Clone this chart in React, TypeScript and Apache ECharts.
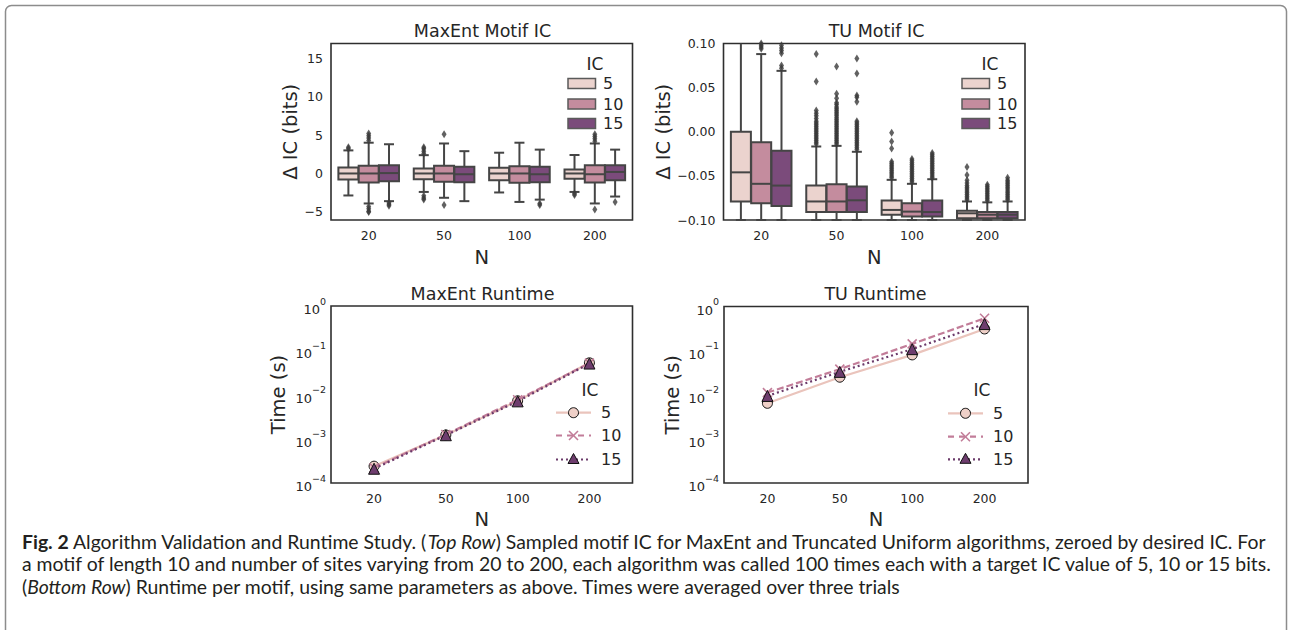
import React, { useEffect, useRef } from "react";
import * as echarts from "echarts";

// ---------------- data ----------------
const N_LABELS = ["20", "50", "100", "200"];
const IC_LEVELS = ["5", "10", "15"];

// box stats per N: [lower whisker, q1, median, q3, upper whisker]
const maxentBox5 = [[-2.86, -0.78, 0, 0.78, 3.0], [-2.4, -0.74, 0, 0.65, 2.38], [-2.47, -0.87, 0, 0.74, 2.7], [-2.4, -0.7, 0, 0.52, 2.4]];
const maxentBox10 = [[-3.9, -1.17, 0, 1.0, 4.0], [-3.16, -1.08, 0, 1.0, 3.9], [-3.7, -1.2, 0, 0.95, 4.0], [-3.9, -1.17, -0.1, 1.08, 3.9]];
const maxentBox15 = [[-3.6, -1.0, 0.05, 1.08, 3.8], [-3.6, -1.13, -0.1, 0.87, 2.9], [-3.4, -1.13, -0.1, 0.87, 3.1], [-3.0, -0.87, 0.2, 1.08, 3.1]];
const maxentOut5 = [[3.2, 3.4], [2.6, 2.9, 3.2, 3.4, -2.9, -3.2, -3.4], [], [-2.6, -2.8]];
const maxentOut10 = [[4.3, 4.6, 4.9, 5.2, -4.3, -4.6, -4.9, -5.0], [5.1, -4.1], [], [4.2, 4.5, 4.8, 5.1, -4.7]];
const maxentOut15 = [[-3.8, -4.0, -4.2], [], [-3.9, -4.1], [-3.7]];

const tuBox5 = [[-0.1, -0.079, -0.046, 0.0, 0.13], [-0.1, -0.091, -0.079, -0.061, -0.0167], [-0.1, -0.094, -0.0886, -0.078, -0.0545], [-0.1, -0.098, -0.0924, -0.0894, -0.079]];
const tuBox10 = [[-0.1, -0.081, -0.059, -0.012, 0.088], [-0.1, -0.091, -0.079, -0.0595, -0.016], [-0.1, -0.096, -0.0905, -0.081, -0.059], [-0.1, -0.098, -0.094, -0.091, -0.08]];
const tuBox15 = [[-0.1, -0.084, -0.061, -0.0216, 0.069], [-0.1, -0.091, -0.0777, -0.062, -0.0227], [-0.1, -0.096, -0.091, -0.078, -0.0538], [-0.1, -0.098, -0.094, -0.091, -0.079]];
const tuOut5 = [
  [],
  [-0.014, -0.012, -0.01, -0.008, -0.006, -0.004, -0.002, 0.0, 0.002, 0.004, 0.006, 0.008, 0.01, 0.012, 0.015, 0.018, 0.021, 0.024, 0.057, 0.088],
  [-0.052, -0.05, -0.048, -0.046, -0.044, -0.042, -0.04, -0.038, -0.036, -0.034, -0.019, -0.011, -0.001],
  [-0.077, -0.075, -0.073, -0.071, -0.069, -0.067, -0.065, -0.063, -0.061, -0.058, -0.055, -0.049, -0.04],
];
const tuOut10 = [
  [0.094, 0.096, 0.098, 0.1],
  [-0.014, -0.012, -0.01, -0.008, -0.006, -0.004, -0.002, 0.0, 0.002, 0.004, 0.006, 0.008, 0.01, 0.012, 0.014, 0.016, 0.018, 0.02, 0.022, 0.024, 0.026, 0.028, 0.031, 0.033, 0.038, 0.043, 0.074],
  [-0.057, -0.055, -0.053, -0.051, -0.049, -0.047, -0.045, -0.043, -0.041, -0.039, -0.037, -0.035, -0.033, -0.031],
  [-0.078, -0.076, -0.074, -0.072, -0.07, -0.068, -0.066, -0.064, -0.062, -0.06],
];
const tuOut15 = [
  [0.072, 0.075, 0.089, 0.092, 0.095, 0.098],
  [-0.02, -0.018, -0.016, -0.014, -0.012, -0.01, -0.008, -0.006, -0.004, -0.002, 0.0, 0.002, 0.004, 0.006, 0.008, 0.01, 0.012, 0.034, 0.039, 0.041, 0.066, 0.083],
  [-0.052, -0.05, -0.048, -0.046, -0.044, -0.042, -0.04, -0.038, -0.036, -0.034, -0.032, -0.03, -0.028, -0.026, -0.024],
  [-0.077, -0.075, -0.073, -0.071, -0.069, -0.067, -0.065, -0.063, -0.061, -0.059, -0.057, -0.055, -0.052],
];

// runtime (seconds) per N
const maxentTime5 = [2.4e-4, 1.22e-3, 7.2e-3, 5.2e-2];
const maxentTime10 = [2.2e-4, 1.25e-3, 7.6e-3, 5.1e-2];
const maxentTime15 = [2.1e-4, 1.2e-3, 7.0e-3, 5.0e-2];
const tuTime5 = [6.4e-3, 0.025, 0.08, 0.31];
const tuTime10 = [0.0112, 0.038, 0.142, 0.54];
const tuTime15 = [0.0094, 0.033, 0.108, 0.4];

const LOG_TICKS = [1e-4, 1e-3, 1e-2, 1e-1, 1];
const MAXENT_IC_TICKS = [-5, 0, 5, 10, 15];
const TU_IC_TICKS = [-0.1, -0.05, 0, 0.05, 0.1];

// ---------------- styles ----------------
const FONT = "DejaVu Sans";
const TXT = "#262626";
const EDGE = "#454545";
const FILLS = ["#ebd3ce", "#c48c9e", "#7b4b7b"];
const LINE_COLORS = ["#eac4bc", "#c27d99", "#6b3a6a"];
const MARK_FILLS = ["#efd0c8", "#c27d99", "#6e3d6e"];
const BOX_W = 20;
const OFFSETS = [-20.3, 0, 20.3];

const GRIDS = [
  { left: 331, top: 43.5, width: 301.5, height: 176.5 },
  { left: 723.5, top: 43.5, width: 301.5, height: 176.5 },
  { left: 331, top: 306, width: 301.5, height: 177 },
  { left: 724, top: 306.5, width: 304, height: 176.5 },
];

const minus = (s: string) => s.replace(/-/g, "\u2212");

function boxRender(offset: number, fill: string) {
  return (params: any, api: any) => {
    const idx = api.value(0);
    const top = params.coordSys.y;
    const bottom = params.coordSys.y + params.coordSys.height;
    const cx = api.coord([idx, api.value(3)])[0] + offset;
    let yMin = api.coord([idx, api.value(1)])[1];
    const yQ1 = api.coord([idx, api.value(2)])[1];
    const yMed = api.coord([idx, api.value(3)])[1];
    const yQ3 = api.coord([idx, api.value(4)])[1];
    let yMax = api.coord([idx, api.value(5)])[1];
    const capTop = yMax >= top - 0.5;
    const capBot = yMin <= bottom + 0.5;
    yMax = Math.max(yMax, top);
    yMin = Math.min(yMin, bottom);
    const hw = BOX_W / 2;
    const cw = BOX_W / 4;
    const ls = { stroke: EDGE, lineWidth: 2 };
    const children: any[] = [
      { type: "line", shape: { x1: cx, y1: yQ3, x2: cx, y2: yMax }, style: ls },
      { type: "line", shape: { x1: cx, y1: yQ1, x2: cx, y2: yMin }, style: ls },
    ];
    if (capTop) children.push({ type: "line", shape: { x1: cx - cw, y1: yMax, x2: cx + cw, y2: yMax }, style: ls });
    if (capBot) children.push({ type: "line", shape: { x1: cx - cw, y1: yMin, x2: cx + cw, y2: yMin }, style: ls });
    children.push({ type: "rect", shape: { x: cx - hw, y: yQ3, width: BOX_W, height: yQ1 - yQ3 }, style: { fill, stroke: EDGE, lineWidth: 2 } });
    children.push({ type: "line", shape: { x1: cx - hw, y1: yMed, x2: cx + hw, y2: yMed }, style: ls });
    return { type: "group", children };
  };
}

function boxSeries(grid: number, boxes: number[][][], outs: number[][][]) {
  const s: any[] = [];
  boxes.forEach((b, k) => {
    s.push({
      type: "custom",
      name: IC_LEVELS[k],
      xAxisIndex: grid,
      yAxisIndex: grid,
      renderItem: boxRender(OFFSETS[k], FILLS[k]),
      encode: { x: 0, y: [1, 2, 3, 4, 5] },
      data: b.map((v, i) => [i, ...v]),
      z: 2,
    });
  });
  outs.forEach((o, k) => {
    const data: number[][] = [];
    o.forEach((vals, i) => vals.forEach((v) => data.push([i, v])));
    s.push({
      type: "scatter",
      name: IC_LEVELS[k] + " outliers",
      xAxisIndex: grid,
      yAxisIndex: grid,
      symbol: "diamond",
      symbolSize: [5, 8],
      symbolOffset: [OFFSETS[k], 0],
      itemStyle: { color: "#3a3a3a" },
      data,
      z: 3,
    });
  });
  return s;
}

const X_PATH = "path://M0,0L10,10M10,0L0,10";

function timeSeries(grid: number, times: number[][]) {
  const symbols = ["circle", X_PATH, "triangle"];
  const types: any[] = ["solid", [7, 3], [2, 3]];
  return times.map((t, k) => ({
    type: "line",
    name: IC_LEVELS[k],
    xAxisIndex: grid,
    yAxisIndex: grid,
    data: t.map((v, i) => [i, v]),
    symbol: symbols[k],
    symbolSize: k === 1 ? 9 : k === 2 ? 11 : 10,
    lineStyle: { color: LINE_COLORS[k], width: 2.2, type: types[k] },
    itemStyle:
      k === 1
        ? { color: MARK_FILLS[k], borderColor: MARK_FILLS[k], borderWidth: 1.6 }
        : { color: MARK_FILLS[k], borderColor: "#111", borderWidth: 1 },
    z: 3 + k,
  }));
}

const labelStyle = { color: TXT, fontSize: 12.5, fontFamily: FONT };
const nameStyle = { color: TXT, fontSize: 19.5, fontFamily: FONT, lineHeight: 20 };

function catXAxis(grid: number) {
  return {
    type: "category",
    gridIndex: grid,
    data: N_LABELS,
    axisLine: { show: false },
    axisTick: { show: false },
    axisLabel: { ...labelStyle, margin: 9 },
    splitLine: { show: false },
    name: "N",
    nameLocation: "middle",
    nameGap: 27,
    nameTextStyle: nameStyle,
  };
}

function valXAxis(grid: number) {
  return {
    type: "value",
    gridIndex: grid,
    min: -0.6,
    max: 3.6,
    axisLine: { show: false },
    axisTick: { show: false },
    axisLabel: { ...labelStyle, margin: 9, customValues: [0, 1, 2, 3], formatter: (v: number) => N_LABELS[Math.round(v)] },
    splitLine: { show: false },
    name: "N",
    nameLocation: "middle",
    nameGap: 26,
    nameTextStyle: nameStyle,
  };
}

function logYAxis(grid: number, gap: number) {
  return {
    type: "log",
    logBase: 10,
    gridIndex: grid,
    min: 1e-4,
    max: 1,
    axisLine: { show: false },
    axisTick: { show: false },
    splitLine: { show: false },
    axisLabel: {
      margin: 5,
      customValues: LOG_TICKS,
      formatter: (v: number) => {
        const e = Math.round(Math.log10(v));
        return `{b|10}{s|${minus(String(e))}}`;
      },
      rich: {
        b: { color: TXT, fontSize: 13, fontFamily: FONT, lineHeight: 20, verticalAlign: "bottom", padding: [7, 0, 0, 0] },
        s: { color: TXT, fontSize: 9.5, fontFamily: FONT, lineHeight: 20, verticalAlign: "top", padding: [0, 0, 7, 0] },
      },
    },
    name: "Time (s)",
    nameLocation: "middle",
    nameGap: gap,
    nameTextStyle: nameStyle,
  };
}

const txt = (text: string, x: number, y: number, size: number, align = "center", extra: any = {}) => ({
  type: "text",
  x,
  y,
  silent: true,
  style: {
    text,
    fill: TXT,
    fontSize: size,
    fontFamily: FONT,
    align,
    textAlign: align,
    verticalAlign: "middle",
    textVerticalAlign: "middle",
    ...extra,
  },
});

function boxLegend(x0: number, titleX: number): any[] {
  const rows = [83.5, 104, 123.5];
  const els: any[] = [txt("IC", titleX, 63.5, 17)];
  rows.forEach((y, k) => {
    els.push({
      type: "rect",
      shape: { x: x0, y: y - 5, width: 27.5, height: 10 },
      style: { fill: FILLS[k], stroke: "#5a5a5a", lineWidth: 1.5 },
    });
    els.push(txt(IC_LEVELS[k], x0 + 35, y, 16, "left"));
  });
  return els;
}

function lineLegend(x0: number, titleX: number, titleY: number, rows: number[]): any[] {
  const els: any[] = [txt("IC", titleX, titleY, 17)];
  const dashes: any[] = [null, [6, 5], [2, 3]];
  rows.forEach((y, k) => {
    const cx = x0 + 17.5;
    els.push({
      type: "line",
      shape: { x1: x0, y1: y, x2: x0 + 35, y2: y },
      style: { stroke: LINE_COLORS[k], lineWidth: 2.2, lineDash: dashes[k] },
    });
    if (k === 0) {
      els.push({ type: "circle", shape: { cx, cy: y, r: 5 }, style: { fill: MARK_FILLS[0], stroke: "#111", lineWidth: 1 } });
    } else if (k === 1) {
      els.push({ type: "line", shape: { x1: cx - 4.5, y1: y - 4.5, x2: cx + 4.5, y2: y + 4.5 }, style: { stroke: MARK_FILLS[1], lineWidth: 1.6 } });
      els.push({ type: "line", shape: { x1: cx - 4.5, y1: y + 4.5, x2: cx + 4.5, y2: y - 4.5 }, style: { stroke: MARK_FILLS[1], lineWidth: 1.6 } });
    } else {
      els.push({
        type: "polygon",
        shape: { points: [[cx, y - 6], [cx - 5.5, y + 4], [cx + 5.5, y + 4]] },
        style: { fill: MARK_FILLS[2], stroke: "#111", lineWidth: 1 },
      });
    }
    els.push(txt(IC_LEVELS[k], x0 + 45, y, 16, "left"));
  });
  return els;
}

const CAPTION_1 = "{fb|Fig. 2} Algorithm Validation and Runtime Study. ({it|Top Row}) Sampled motif IC for MaxEnt and Truncated Uniform algorithms, zeroed by desired IC. For";
const CAPTION_2 = "a motif of length 10 and number of sites varying from 20 to 200, each algorithm was called 100 times each with a target IC value of 5, 10 or 15 bits.";
const CAPTION_3 = "({it|Bottom Row}) Runtime per motif, using same parameters as above. Times were averaged over three trials";

const CAP_FONT = "Lato";
const CAP_SIZE = 19.4;
const CAP_LH = 19;
const capRich = {
  fb: { fontFamily: CAP_FONT, fontSize: CAP_SIZE, fontWeight: "bold", fill: "#231f20", color: "#231f20", lineHeight: CAP_LH },
  it: { fontFamily: CAP_FONT, fontSize: CAP_SIZE, fontStyle: "italic", fill: "#231f20", color: "#231f20", lineHeight: CAP_LH },
};
const capText = (text: string, y: number) => ({
  type: "text",
  x: 22,
  y,
  silent: true,
  style: {
    text,
    fill: "#231f20",
    fontSize: CAP_SIZE,
    fontFamily: CAP_FONT,
    lineHeight: CAP_LH,
    align: "left",
    textAlign: "left",
    verticalAlign: "middle",
    textVerticalAlign: "middle",
    rich: capRich,
  },
});

export default function App() {
  const ref = useRef<HTMLDivElement>(null);
  useEffect(() => {
    if (!ref.current) return;
    const chart = echarts.init(ref.current, undefined, { renderer: "svg" });
    const option: any = {
      animation: false,
      backgroundColor: "#ffffff",
      grid: GRIDS.map((g) => ({ ...g, show: true, borderColor: "#2e2e2e", borderWidth: 1.6, containLabel: false })),
      xAxis: [catXAxis(0), catXAxis(1), valXAxis(2), valXAxis(3)],
      yAxis: [
        {
          type: "value",
          gridIndex: 0,
          min: -6.05,
          max: 16.9,
          axisLine: { show: false },
          axisTick: { show: false },
          splitLine: { show: false },
          axisLabel: { ...labelStyle, margin: 8, customValues: MAXENT_IC_TICKS, formatter: (v: number) => minus(String(v)) },
          name: "\u0394 IC (bits)",
          nameLocation: "middle",
          nameGap: 30,
          nameTextStyle: nameStyle,
        },
        {
          type: "value",
          gridIndex: 1,
          min: -0.1,
          max: 0.1,
          axisLine: { show: false },
          axisTick: { show: false },
          splitLine: { show: false },
          axisLabel: { ...labelStyle, margin: 8, customValues: TU_IC_TICKS, formatter: (v: number) => minus(v.toFixed(2)) },
          name: "\u0394 IC (bits)",
          nameLocation: "middle",
          nameGap: 48,
          nameTextStyle: nameStyle,
        },
        logYAxis(2, 43),
        logYAxis(3, 42),
      ],
      series: [
        ...boxSeries(0, [maxentBox5, maxentBox10, maxentBox15], [maxentOut5, maxentOut10, maxentOut15]),
        ...boxSeries(1, [tuBox5, tuBox10, tuBox15], [tuOut5, tuOut10, tuOut15]),
        ...timeSeries(2, [maxentTime5, maxentTime10, maxentTime15]),
        ...timeSeries(3, [tuTime5, tuTime10, tuTime15]),
      ],
      graphic: [
        {
          type: "rect",
          shape: { x: 5.5, y: 5.5, width: 1281, height: 700, r: 6 },
          style: { fill: "none", stroke: "#8c8c8c", lineWidth: 1.5 },
          silent: true,
        },
        txt("MaxEnt Motif IC", 482.5, 30.5, 17.5),
        txt("TU Motif IC", 876.5, 30.5, 17.5),
        txt("MaxEnt Runtime", 482.5, 293.5, 17.5),
        txt("TU Runtime", 875.5, 293.5, 17.5),
        ...boxLegend(568, 595),
        ...boxLegend(962, 990),
        ...lineLegend(556, 590, 389.5, [412.7, 435.5, 459.5]),
        ...lineLegend(948, 982, 390, [413.3, 436.7, 459.3]),
        capText(CAPTION_1, 541),
        capText(CAPTION_2, 563.5),
        capText(CAPTION_3, 586),
      ],
    };
    chart.setOption(option);
    return () => chart.dispose();
  }, []);
  return <div ref={ref} style={{ position: "absolute", left: 0, top: 0, width: 1290, height: 630 }} />;
}
